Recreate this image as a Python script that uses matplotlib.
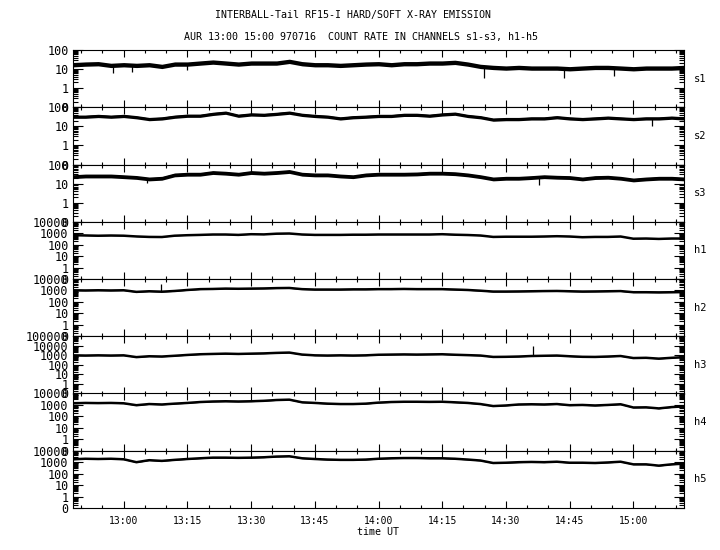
import numpy as np
import pandas as pd
import matplotlib
matplotlib.use("Agg")
import matplotlib.pyplot as plt
import matplotlib.dates as mdates
from matplotlib.ticker import FixedLocator, FuncFormatter, LogLocator, NullFormatter

# sample grid, 3 min steps, 970716 12:48 - 15:12 UT
TIMES = pd.date_range("1997-07-16 12:48", "1997-07-16 15:12", freq="3min")

# count rates (one value per 3 min)
S1 = [16.9, 18.3, 19.1, 15.6, 16.9, 15.6, 16.9, 13.8, 18.3, 18.3,
      20.7, 23.3, 20.7, 18.3, 20.7, 20.7, 20.7, 25.4, 19.1, 16.9,
      16.9, 15.6, 16.9, 18.3, 19.1, 16.9, 19.1, 19.1, 20.7, 20.7,
      22.5, 18.3, 13.8, 12.2, 11.3, 12.2, 11.3, 11.3, 11.3, 10.4,
      11.3, 12.2, 12.2, 11.3, 10.4, 11.3, 11.3, 11.3, 12.2]
S2 = [32, 32, 35, 32, 35, 30, 24, 26, 32, 36,
      36, 45, 52, 36, 42, 40, 45, 52, 40, 35,
      32, 26, 30, 32, 35, 35, 40, 40, 36, 42,
      46, 35, 30, 22.5, 24, 24, 26, 26, 30, 26,
      24, 26, 28.5, 26, 24, 26, 26, 28.5, 26]
S3 = [23, 25, 25, 25, 23, 21, 17.5, 19, 28.5, 31,
      31, 38, 35, 31, 38, 35, 38, 43, 31, 28.5,
      28.5, 25, 23, 28.5, 31, 31, 31, 32, 35, 35,
      33, 28.5, 23, 17.5, 19, 19, 20.7, 23, 21.5, 20.7,
      17.5, 20.7, 21.5, 19, 15.5, 17.5, 19, 19, 17.5]
H1 = [668, 636, 600, 628, 604, 520, 473, 464, 604, 668,
      710, 769, 769, 710, 817, 785, 904, 942, 769, 710,
      710, 710, 738, 738, 769, 769, 769, 769, 769, 817,
      738, 695, 628, 473, 493, 493, 493, 514, 546, 514,
      446, 473, 473, 514, 330, 343, 316, 343, 343]
H2 = [1040, 1000, 1040, 1000, 1040, 750, 850, 780, 900, 1100,
      1300, 1350, 1450, 1400, 1450, 1500, 1600, 1650, 1300, 1200,
      1200, 1200, 1250, 1250, 1300, 1300, 1350, 1300, 1300, 1300,
      1200, 1100, 950, 800, 800, 820, 850, 880, 900, 850,
      800, 820, 850, 880, 700, 700, 680, 700, 720]
H3 = [1000, 950, 1000, 950, 1000, 650, 800, 750, 900, 1100,
      1300, 1400, 1500, 1400, 1500, 1600, 1800, 1950, 1200, 1000,
      950, 1000, 950, 1000, 1150, 1200, 1250, 1200, 1250, 1300,
      1150, 1050, 950, 680, 700, 750, 850, 900, 950, 800,
      700, 680, 750, 850, 520, 550, 450, 550, 650]
H4 = [1400, 1500, 1450, 1500, 1400, 950, 1200, 1100, 1300, 1500,
      1800, 2000, 2100, 2000, 2100, 2300, 2700, 2900, 1700, 1500,
      1300, 1200, 1200, 1300, 1600, 1800, 1900, 1900, 1850, 1900,
      1700, 1500, 1200, 800, 900, 1100, 1150, 1100, 1200, 950,
      1000, 900, 1000, 1150, 600, 620, 500, 650, 750]
H5 = [1800, 2000, 1900, 2000, 1800, 1000, 1500, 1300, 1600, 1900,
      2200, 2500, 2500, 2400, 2500, 2700, 3100, 3300, 2200, 1900,
      1700, 1600, 1600, 1700, 2000, 2200, 2300, 2300, 2200, 2200,
      2000, 1700, 1400, 850, 900, 1000, 1050, 1000, 1100, 900,
      900, 850, 950, 1100, 650, 650, 500, 650, 750]

CHANNELS = ["s1", "s2", "s3", "h1", "h2", "h3", "h4", "h5"]
SERIES = [S1, S2, S3, H1, H2, H3, H4, H5]
# spread of the noisy trace (factor up/down)
SPREAD = [1.3, 1.22, 1.26, 1.03, 1.08, 1.08, 1.08, 1.08]
# top of each y axis
YTOP = [100, 100, 100, 1e4, 1e4, 1e5, 1e4, 1e4]

# single-sample spikes (time, count rate)
SPIKES = {
    "s1": [("12:57:30", 6.2), ("13:02:00", 6.9), ("13:14:54", 9.2),
           ("14:24:48", 3.6), ("14:43:36", 3.6), ("14:55:24", 4.1)],
    "s2": [("15:04:18", 11)],
    "s3": [("13:05:30", 10.4), ("14:37:42", 8.5)],
    "h2": [("13:08:48", 4000)],
    "h3": [("14:36:24", 8900)],
}

plt.rcParams["font.family"] = ["DejaVu Sans Mono"]

fig = plt.figure(figsize=(7.2, 5.5), dpi=100)
left, right = 72.7 / 720, 684.3 / 720
top, bottom = 1 - 50 / 550, 1 - 508 / 550
h = (top - bottom) / len(CHANNELS)

tnum = mdates.date2num(TIMES)


def zero_fmt(v, pos):
    if v < 0.5:
        return "0"
    return "%d" % round(v)


for i, (name, vals, f, ytop) in enumerate(zip(CHANNELS, SERIES, SPREAD, YTOP)):
    ax = fig.add_axes([left, top - (i + 1) * h, right - left, h])
    v = np.array(vals, dtype=float)
    ax.fill_between(TIMES, v / f, v * f, color="black", lw=0)
    ax.plot(TIMES, v, color="black", lw=1.0 if name.startswith("s") else 1.8)

    for ts, sv in SPIKES.get(name, []):
        t = pd.Timestamp("1997-07-16 " + ts)
        base = np.interp(mdates.date2num(t), tnum, v)
        ax.vlines(t, base, sv, color="black", lw=0.9)

    ax.set_yscale("log")
    ax.set_ylim(0.1, ytop)
    ax.set_xlim(pd.Timestamp("1997-07-16 12:48"), pd.Timestamp("1997-07-16 15:12"))

    majors = [10.0 ** k for k in range(-1, int(round(np.log10(ytop))) + 1)]
    ax.yaxis.set_major_locator(FixedLocator(majors))
    ax.yaxis.set_major_formatter(FuncFormatter(zero_fmt))
    ax.yaxis.set_minor_locator(LogLocator(base=10, subs=np.arange(2, 10), numticks=20))
    ax.yaxis.set_minor_formatter(NullFormatter())

    ax.xaxis.set_major_locator(mdates.MinuteLocator(byminute=[0, 15, 30, 45]))
    ax.xaxis.set_minor_locator(mdates.MinuteLocator(byminute=range(0, 60, 5)))
    ax.xaxis.set_major_formatter(mdates.DateFormatter("%H:%M"))

    ax.tick_params(axis="y", which="both", direction="in", left=True, right=True,
                   labelsize=8.5, pad=3, width=0.8)
    ax.tick_params(axis="y", which="major", length=7)
    ax.tick_params(axis="y", which="minor", length=3.5)
    ax.tick_params(axis="x", which="both", direction="in", top=True, bottom=True,
                   labelsize=7, width=0.8)
    ax.tick_params(axis="x", which="major", length=5)
    ax.tick_params(axis="x", which="minor", length=2.5)
    for sp in ax.spines.values():
        sp.set_linewidth(0.8)

    if i < len(CHANNELS) - 1:
        ax.tick_params(axis="x", labelbottom=False)
    else:
        ax.tick_params(axis="x", pad=6)

    fig.text(694 / 720, top - (i + 0.5) * h, name, fontsize=7.5, va="center", ha="left")

fig.text(353 / 720, 1 - 15 / 550, "INTERBALL-Tail RF15-I HARD/SOFT X-RAY EMISSION",
         fontsize=7.2, ha="center", va="center")
fig.text(361 / 720, 1 - 37 / 550,
         "AUR 13:00 15:00 970716  COUNT RATE IN CHANNELS s1-s3, h1-h5",
         fontsize=7.2, ha="center", va="center")
fig.text(378 / 720, 1 - 532 / 550, "time UT", fontsize=7.2, ha="center", va="center")

fig.savefig("out.png", dpi=100)
